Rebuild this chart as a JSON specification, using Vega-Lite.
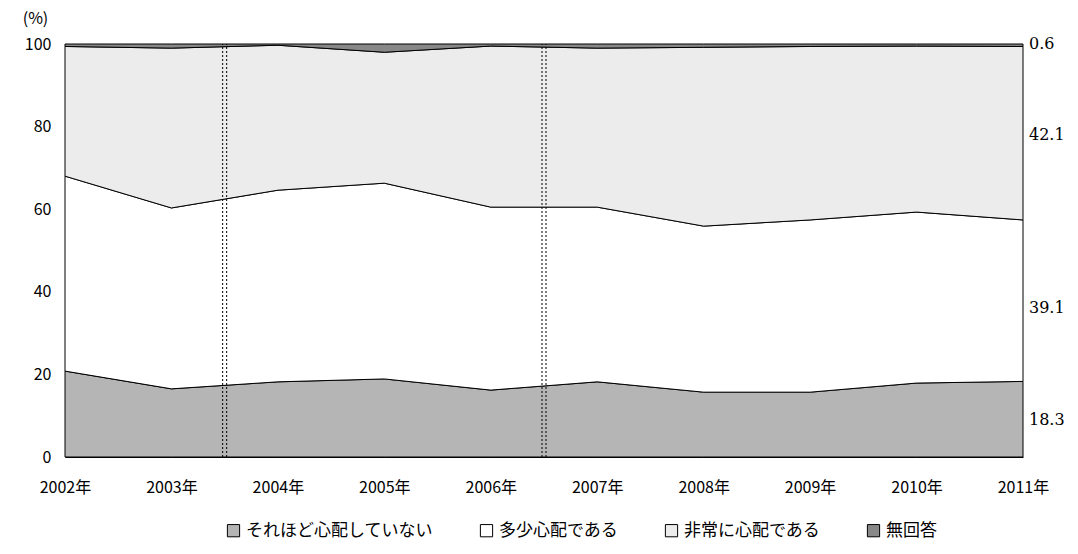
{
"$schema":"https://vega.github.io/schema/vega-lite/v6.json",
"width":958,"height":413,
"autosize":{"type":"none"},
"padding":{"left":65,"top":44,"right":55,"bottom":97},
"config":{"font":"Noto Sans CJK JP","view":{"stroke":null},"axis":{"labelFontSize":16,"labelColor":"#000","domainColor":"#000","tickColor":"#000","grid":false}},
"datasets":{
"a":[
{"year":2002,"s":"それほど心配していない","lo":0,"hi":20.8},
{"year":2003,"s":"それほど心配していない","lo":0,"hi":16.5},
{"year":2004,"s":"それほど心配していない","lo":0,"hi":18.2},
{"year":2005,"s":"それほど心配していない","lo":0,"hi":18.9},
{"year":2006,"s":"それほど心配していない","lo":0,"hi":16.2},
{"year":2007,"s":"それほど心配していない","lo":0,"hi":18.2},
{"year":2008,"s":"それほど心配していない","lo":0,"hi":15.7},
{"year":2009,"s":"それほど心配していない","lo":0,"hi":15.7},
{"year":2010,"s":"それほど心配していない","lo":0,"hi":17.9},
{"year":2011,"s":"それほど心配していない","lo":0,"hi":18.3},
{"year":2002,"s":"多少心配である","lo":20.8,"hi":68.0},
{"year":2003,"s":"多少心配である","lo":16.5,"hi":60.3},
{"year":2004,"s":"多少心配である","lo":18.2,"hi":64.6},
{"year":2005,"s":"多少心配である","lo":18.9,"hi":66.3},
{"year":2006,"s":"多少心配である","lo":16.2,"hi":60.5},
{"year":2007,"s":"多少心配である","lo":18.2,"hi":60.5},
{"year":2008,"s":"多少心配である","lo":15.7,"hi":55.9},
{"year":2009,"s":"多少心配である","lo":15.7,"hi":57.4},
{"year":2010,"s":"多少心配である","lo":17.9,"hi":59.3},
{"year":2011,"s":"多少心配である","lo":18.3,"hi":57.4},
{"year":2002,"s":"非常に心配である","lo":68.0,"hi":99.4},
{"year":2003,"s":"非常に心配である","lo":60.3,"hi":99.0},
{"year":2004,"s":"非常に心配である","lo":64.6,"hi":99.7},
{"year":2005,"s":"非常に心配である","lo":66.3,"hi":98.0},
{"year":2006,"s":"非常に心配である","lo":60.5,"hi":99.5},
{"year":2007,"s":"非常に心配である","lo":60.5,"hi":99.0},
{"year":2008,"s":"非常に心配である","lo":55.9,"hi":99.2},
{"year":2009,"s":"非常に心配である","lo":57.4,"hi":99.4},
{"year":2010,"s":"非常に心配である","lo":59.3,"hi":99.5},
{"year":2011,"s":"非常に心配である","lo":57.4,"hi":99.4},
{"year":2002,"s":"無回答","lo":99.4,"hi":100},
{"year":2003,"s":"無回答","lo":99.0,"hi":100},
{"year":2004,"s":"無回答","lo":99.7,"hi":100},
{"year":2005,"s":"無回答","lo":98.0,"hi":100},
{"year":2006,"s":"無回答","lo":99.5,"hi":100},
{"year":2007,"s":"無回答","lo":99.0,"hi":100},
{"year":2008,"s":"無回答","lo":99.2,"hi":100},
{"year":2009,"s":"無回答","lo":99.4,"hi":100},
{"year":2010,"s":"無回答","lo":99.5,"hi":100},
{"year":2011,"s":"無回答","lo":99.4,"hi":100}
],
"lab":[{"year":2011,"y":9,"t":"18.3"},{"year":2011,"y":36,"t":"39.1"},{"year":2011,"y":78,"t":"42.1"},{"year":2011,"y":100,"t":"0.6"}],
"v":[{"x":2003.5},{"x":2006.5}]
},
"layer":[
{"data":{"name":"a"},"mark":{"type":"area","stroke":"#000","strokeWidth":1},
"encoding":{
"x":{"field":"year","type":"quantitative","scale":{"domain":[2002,2011],"nice":false},"axis":{"values":[2002,2003,2004,2005,2006,2007,2008,2009,2010,2011],"labelExpr":"datum.value+'年'","title":null,"ticks":false,"labelPadding":22,"labelFlush":false}},
"y":{"field":"lo","type":"quantitative","scale":{"domain":[0,100]},"axis":{"values":[0,20,40,60,80,100],"title":"(%)","titleAngle":0,"titleX":-30,"titleY":-18,"titleFontSize":16,"titleFontWeight":"normal","ticks":false,"labelPadding":14,"domain":false}},
"y2":{"field":"hi"},
"color":{"field":"s","type":"nominal","sort":null,"scale":{"domain":["それほど心配していない","多少心配である","非常に心配である","無回答"],"range":["#b5b5b5","#ffffff","#ececec","#888888"]},
"legend":{"title":null,"orient":"none","direction":"horizontal","legendX":160,"legendY":478,"symbolType":"square","symbolSize":150,"symbolStrokeColor":"#000","symbolStrokeWidth":1,"labelFontSize":17,"labelLimit":0,"columnPadding":45}}}},
{"data":{"name":"v"},"mark":{"type":"rule","stroke":"#000","strokeDash":[2,2],"strokeWidth":1,"xOffset":-2},
"encoding":{"x":{"field":"x","type":"quantitative"},"y":{"datum":0},"y2":{"datum":100}}},
{"data":{"name":"v"},"mark":{"type":"rule","stroke":"#000","strokeDash":[2,2],"strokeWidth":1,"xOffset":2},
"encoding":{"x":{"field":"x","type":"quantitative"},"y":{"datum":0},"y2":{"datum":100}}},
{"data":{"name":"lab"},"mark":{"type":"text","align":"left","dx":6,"fontSize":16,"font":"DejaVu Serif"},
"encoding":{"x":{"field":"year","type":"quantitative"},"y":{"field":"y","type":"quantitative"},"text":{"field":"t"}}}
]
}
